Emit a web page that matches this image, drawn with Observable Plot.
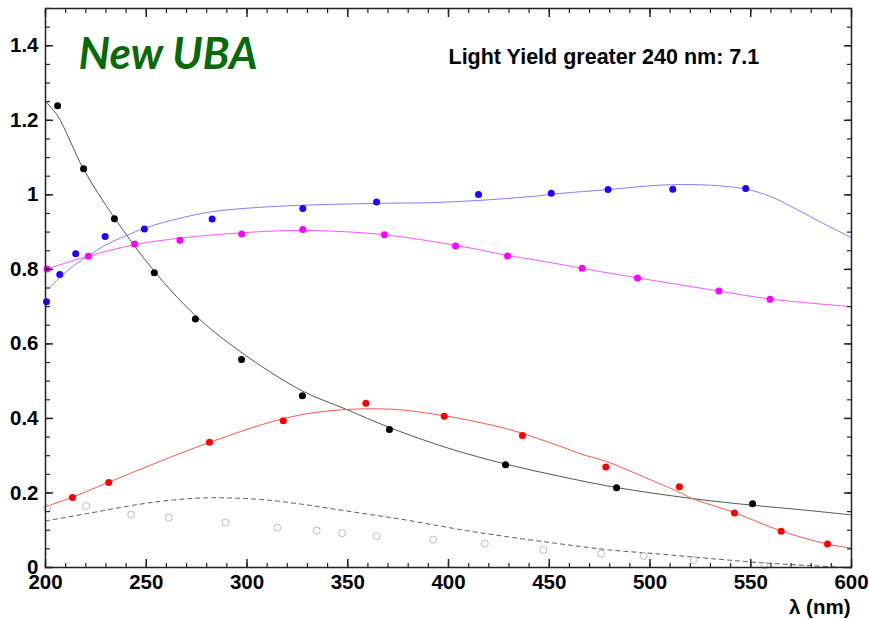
<!DOCTYPE html>
<html><head><meta charset="utf-8">
<script src="https://cdn.jsdelivr.net/npm/d3@7"></script>
<script src="https://cdn.jsdelivr.net/npm/@observablehq/plot@0.6"></script>
<style>body{margin:0;background:#fff;}</style>
</head><body><div id="chart"></div>
<script>
// Measured points
const blackX = [206, 218.9, 234.2, 254, 274.4, 297.3, 327.5, 370.7, 428.3, 483.4, 550.9];
const blackY = [1.239, 1.070, 0.936, 0.791, 0.667, 0.558, 0.461, 0.370, 0.276, 0.214, 0.171];
const blueX = [200.5, 207.1, 215, 229.6, 249.1, 282.7, 327.7, 364.3, 414.9, 451, 479.2, 511.3, 547.5];
const blueY = [0.713, 0.786, 0.842, 0.888, 0.908, 0.935, 0.963, 0.981, 1.001, 1.004, 1.014, 1.015, 1.017];
const magentaX = [200.8, 221.3, 244.2, 266.7, 297.4, 327.7, 368.2, 403.5, 429.3, 466.3, 493.8, 534.2, 559.6];
const magentaY = [0.801, 0.835, 0.868, 0.878, 0.895, 0.907, 0.893, 0.863, 0.836, 0.803, 0.777, 0.742, 0.720];
const redX = [213.4, 231.4, 281.4, 318, 359, 397.9, 436.7, 478.1, 514.6, 541.9, 565.1, 588.1];
const redY = [0.188, 0.228, 0.336, 0.394, 0.441, 0.406, 0.354, 0.270, 0.217, 0.146, 0.097, 0.063];
const grayX = [200.8, 220.2, 242.5, 261.2, 289.3, 315, 334.6, 347.2, 364.3, 392.4, 418, 447.1, 475.8, 496.8, 521.7, 556.8];
const grayY = [0.159, 0.165, 0.142, 0.134, 0.121, 0.107, 0.099, 0.092, 0.084, 0.075, 0.064, 0.047, 0.037, 0.031, 0.020, 0.005];

// Fit curves
const blackFitX = [200, 206, 219, 234, 254, 274, 297, 327, 349, 371, 400, 428, 455, 483, 521, 551, 575, 600];
const blackFitY = [1.250, 1.212, 1.068, 0.940, 0.795, 0.678, 0.578, 0.475, 0.425, 0.375, 0.320, 0.278, 0.245, 0.215, 0.185, 0.167, 0.155, 0.141];
const blueFitX = [202, 207, 214, 221, 230, 242, 250, 265, 283, 305, 327, 364, 391, 415, 440, 456, 479, 505, 525, 547, 560, 571, 585, 600];
const blueFitY = [0.750, 0.778, 0.810, 0.835, 0.866, 0.895, 0.912, 0.935, 0.955, 0.966, 0.972, 0.977, 0.979, 0.985, 0.995, 1.004, 1.014, 1.026, 1.027, 1.016, 0.995, 0.966, 0.926, 0.885];
const magentaFitX = [200, 221, 244, 267, 297, 320, 340, 368, 403, 429, 455, 466, 494, 534, 560, 600];
const magentaFitY = [0.800, 0.835, 0.866, 0.884, 0.898, 0.904, 0.903, 0.893, 0.865, 0.838, 0.814, 0.803, 0.777, 0.742, 0.720, 0.700];
const redFitX = [200, 213, 231, 256, 281, 317, 340, 371, 398, 411, 431, 456, 466, 478, 500, 515, 521, 542, 565, 588, 600];
const redFitY = [0.163, 0.188, 0.228, 0.283, 0.335, 0.398, 0.420, 0.425, 0.407, 0.394, 0.369, 0.324, 0.304, 0.285, 0.236, 0.201, 0.185, 0.147, 0.098, 0.063, 0.052];
const dashFitX = [200, 220, 247, 265, 280, 295, 310, 327, 343, 360, 376, 393, 409, 426, 456, 466, 480, 505, 530, 555, 580, 598];
const dashFitY = [0.125, 0.144, 0.170, 0.182, 0.187, 0.186, 0.181, 0.170, 0.157, 0.143, 0.130, 0.114, 0.099, 0.085, 0.063, 0.056, 0.047, 0.036, 0.024, 0.013, 0.005, 0.000];

// Axis ticks
const xMajor = [200, 250, 300, 350, 400, 450, 500, 550, 600];
const xMajorLabels = ["200", "250", "300", "350", "400", "450", "500", "550", "600"];
const yMajor = [0, 0.2, 0.4, 0.6, 0.8, 1, 1.2, 1.4];
const yMajorLabels = ["0", "0.2", "0.4", "0.6", "0.8", "1", "1.2", "1.4"];
const xMinor = d3.range(200, 601, 10);
const yMinor = d3.range(0, 1.5001, 0.05);

const titleText = "New UBA";
const noteText = "Light Yield greater 240 nm: 7.1";
const xLabel = "λ (nm)";

const rows = (xs, ys) => xs.map((x, i) => ({x, y: ys[i]}));
const fontFam = "'Liberation Sans', Arial, sans-serif";

const lineOpts = {x: "x", y: "y", strokeWidth: 1, curve: "catmull-rom", clip: true};

const chart = Plot.plot({
  width: 869, height: 619,
  marginLeft: 45, marginRight: 18, marginTop: 8, marginBottom: 52,
  x: {domain: [200, 600]},
  y: {domain: [0, 1.5]},
  style: {fontFamily: fontFam, background: "#fff", color: "#000"},
  marks: [
    Plot.line(rows(dashFitX, dashFitY), {...lineOpts, stroke: "#555", strokeDasharray: "4,4"}),
    Plot.line(rows(blackFitX, blackFitY), {...lineOpts, stroke: "#555"}),
    Plot.line(rows(blueFitX, blueFitY), {...lineOpts, stroke: "#8080ff"}),
    Plot.line(rows(magentaFitX, magentaFitY), {...lineOpts, stroke: "#ff55ff"}),
    Plot.line(rows(redFitX, redFitY), {...lineOpts, stroke: "#ff5555"}),
    Plot.dot(rows(grayX, grayY), {x: "x", y: "y", r: 3.5, stroke: "#bbb", strokeWidth: 1, fill: "none"}),
    Plot.dot(rows(blackX, blackY), {x: "x", y: "y", r: 3.5, fill: "#000"}),
    Plot.dot(rows(blueX, blueY), {x: "x", y: "y", r: 3.5, fill: "#2200ff"}),
    Plot.dot(rows(magentaX, magentaY), {x: "x", y: "y", r: 3.5, fill: "#ff00ff"}),
    Plot.dot(rows(redX, redY), {x: "x", y: "y", r: 3.5, fill: "#ff0000"}),
    Plot.frame({stroke: "#222", strokeWidth: 1.5}),
    // inward ticks on all four sides
    Plot.axisX({anchor: "bottom", ticks: xMajor, tickSize: -8, text: null, label: null, stroke: "#222", strokeWidth: 1.5}),
    Plot.axisX({anchor: "bottom", ticks: xMinor, tickSize: -4, text: null, label: null, stroke: "#222", strokeWidth: 1.2}),
    Plot.axisX({anchor: "top", ticks: xMajor, tickSize: -8, text: null, label: null, stroke: "#222", strokeWidth: 1.5}),
    Plot.axisX({anchor: "top", ticks: xMinor, tickSize: -4, text: null, label: null, stroke: "#222", strokeWidth: 1.2}),
    Plot.axisY({anchor: "left", ticks: yMajor, tickSize: -8, text: null, label: null, stroke: "#222", strokeWidth: 1.5}),
    Plot.axisY({anchor: "left", ticks: yMinor, tickSize: -5, text: null, label: null, stroke: "#222", strokeWidth: 1.2}),
    Plot.axisY({anchor: "right", ticks: yMajor, tickSize: -8, text: null, label: null, stroke: "#222", strokeWidth: 1.5}),
    Plot.axisY({anchor: "right", ticks: yMinor, tickSize: -5, text: null, label: null, stroke: "#222", strokeWidth: 1.2}),
    // tick labels
    Plot.axisX({anchor: "bottom", ticks: xMajor, tickSize: 0, tickPadding: 7, label: null,
      tickFormat: (d) => xMajorLabels[xMajor.indexOf(d)], fontSize: 20.5, fontWeight: "bold", fill: "#000"}),
    Plot.axisY({anchor: "left", ticks: yMajor, tickSize: 0, tickPadding: 7, label: null,
      tickFormat: (d) => yMajorLabels[yMajor.indexOf(d)], fontSize: 20.5, fontWeight: "bold", fill: "#000"}),
    Plot.text([xLabel], {frameAnchor: "bottom-right", textAnchor: "end", lineAnchor: "middle", dy: 40, dx: -1,
      fontSize: 20.5, fontWeight: "bold", fill: "#000"}),
    Plot.text([titleText], {frameAnchor: "top-left", textAnchor: "start", lineAnchor: "middle", dx: 33, dy: 46,
      fontSize: 44, fontWeight: "bold", fontStyle: "italic", fontFamily: "Lato, 'Open Sans', sans-serif", fill: "#0a6a0a"}),
    Plot.text([noteText], {frameAnchor: "top-left", textAnchor: "start", lineAnchor: "middle", dx: 403, dy: 48.5,
      fontSize: 21.5, fontWeight: "bold", fill: "#000"})
  ]
});
document.getElementById("chart").appendChild(chart);
</script>
</body></html>
